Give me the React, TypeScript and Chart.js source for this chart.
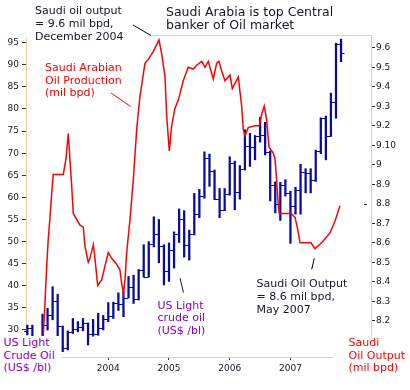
import React, { useEffect, useRef } from "react";
import { Chart, registerables } from "chart.js";
Chart.register(...registerables);

// Monthly bars, Sep 2002 .. Nov 2007 (index 0 = Sep 2002)
const months = [
  "Sep02","Oct02","Nov02","Dec02",
  "Jan03","Feb03","Mar03","Apr03","May03","Jun03","Jul03","Aug03","Sep03","Oct03","Nov03","Dec03",
  "Jan04","Feb04","Mar04","Apr04","May04","Jun04","Jul04","Aug04","Sep04","Oct04","Nov04","Dec04",
  "Jan05","Feb05","Mar05","Apr05","May05","Jun05","Jul05","Aug05","Sep05","Oct05","Nov05","Dec05",
  "Jan06","Feb06","Mar06","Apr06","May06","Jun06","Jul06","Aug06","Sep06","Oct06","Nov06","Dec06",
  "Jan07","Feb07","Mar07","Apr07","May07","Jun07","Jul07","Aug07","Sep07","Oct07","Nov07",
];
const opens = [29.7,30.5,27.2,26.9,31.2,33.3,36.5,30.9,25.9,29.5, 30.2,30.6,31.6,29.2,29.1,30.4,32.5,33.1,36.2,35.8, 37.3,39.8,36.9,43.6,42.1,49.5,51.7,48.9,43.3,48.1, 51.8,55.2,49.3,51.8,56.3,60.3,68.8,65.9,59.7,57.2, 60.8,67.8,61.3,66.5,71.6,71.3,73.8,74.2,70.2,62.8, 58.6,62.9,61.0,58.0,61.6,65.7,65.6,63.9,70.5,77.9, 74.0,81.6,94.6];
const highs = [31.1,31.1,28.3,33.6,34.9,39.8,38.1,30.9,29.8,32.6, 31.9,32.6,31.6,32.4,33.8,33.3,36.2,36.3,38.4,38.7, 42.1,42.4,43.7,49.3,50.0,55.6,55.0,49.3,49.7,52.2, 57.4,57.0,52.6,60.9,61.8,70.3,69.8,66.2,62.0,62.0, 69.2,68.2,67.2,75.3,74.5,74.0,78.1,77.0,70.5,63.5, 63.4,64.0,61.4,62.3,67.5,66.5,66.5,70.7,78.0,78.4, 83.6,94.9,95.8];
const lows = [28.9,26.9,25.2,26.6,30.0,32.3,28.5,25.1,25.5,29.2, 29.6,29.8,26.6,28.6,28.8,30.0,31.9,32.6,34.4,33.0, 37.3,36.0,36.8,42.0,42.0,48.8,45.2,40.2,41.0,44.0, 49.8,46.5,45.8,51.5,55.4,59.8,62.5,59.5,55.4,57.0, 60.5,57.2,59.6,66.2,67.0,68.5,72.5,69.6,59.2,56.5, 54.8,60.3,49.6,56.2,56.2,61.0,61.0,63.6,69.9,68.5, 73.8,77.9,90.7];
const closes = [30.5,27.2,26.9,31.2,33.3,36.5,30.9,25.9,29.5,30.2, 30.6,31.6,29.2,29.1,30.4,32.5,33.1,36.2,35.8,37.3, 39.8,36.9,43.6,42.1,49.5,51.7,48.9,43.3,48.1,51.8, 55.2,49.3,51.8,56.3,60.3,68.8,65.9,59.7,57.2,60.8, 67.8,61.3,66.5,71.6,71.3,73.8,74.2,70.2,62.8,58.6, 62.9,61.0,58.0,61.6,65.7,65.6,63.9,70.5,77.9,74.0, 81.6,94.6,92.6];

// Saudi output line (position in months from Sep 2002, mil bpd)
const saudiMonthPos = [3.15,3.49,3.83,4.14,4.48,4.81,5.13,7.11,7.64,8.09, 8.77,9.08,9.75,10.41,11.06,11.40,12.05,12.38,13.04,13.37, 13.91,14.70,16.0,16.67,17.66,18.31,18.65,19.0,19.30,19.64, 20.29,20.94,21.61,22.26,23.25,23.91,24.89,26.02,26.55,27.21, 27.54,28.06,28.53,29.18,29.83,30.82,31.81,32.80,33.47,34.46, 35.11,35.76,36.75,37.42,37.88,38.41,39.06,40.05,40.51,41.69, 42.36,42.68,43.02,43.67,44.99,45.84,46.32,46.83,47.30,47.76, 48.61,48.94,49.28,49.60,49.79,52.11,52.90,53.43,53.89,56.06, 56.85,58.17,59.81,60.80,61.79];
const saudiOutput = [8.12,8.29,8.48,8.62,8.73,8.85,8.95,8.95,9.03,9.16, 8.89,8.75,8.72,8.69,8.68,8.58,8.50,8.52,8.59,8.52, 8.38,8.41,8.55,8.52,8.49,8.46,8.39,8.34,8.41,8.55, 8.72,8.92,9.18,9.35,9.52,9.54,9.58,9.64,9.57,9.45, 9.25,9.07,9.20,9.29,9.33,9.43,9.50,9.49,9.51,9.53, 9.50,9.53,9.44,9.52,9.53,9.48,9.43,9.46,9.39,9.45, 9.30,9.18,9.15,9.19,9.20,9.20,9.26,9.30,9.23,9.09, 9.06,9.03,8.92,8.79,8.75,8.75,8.73,8.67,8.60,8.60, 8.57,8.60,8.65,8.71,8.79];

const yearTickPos = [16, 28, 40, 52];
const yearLabels = ["2004", "2005", "2006", "2007"];
const leftTicks = [30, 35, 40, 45, 50, 55, 60, 65, 70, 75, 80, 85, 90, 95];
const rightTicks = [8.2, 8.3, 8.4, 8.5, 8.6, 8.7, 8.8, 8.9, 9.0, 9.1, 9.2, 9.3, 9.4, 9.5, 9.6];
const rightTickLabels = ["8.2","8.3","8.4","8.5","8.6","8.7","8.8","8.9","9","9.10","9.2","9.3","9.4","9.5","9.6"];

const NAVY = "#0a0a9e";
const RED = "#ff0000";
const PEACH = "#f8cc9e";
const PURPLE = "#8a00c8";
const INK = "#161625";
const FONT = "'DejaVu Sans', Verdana, sans-serif";

export default function App() {
  const ref = useRef<HTMLCanvasElement>(null);

  useEffect(() => {
    const canvas = ref.current!;
    const ohlcTicks = {
      id: "ohlcTicks",
      afterDatasetDraw(chart: any, args: any) {
        if (args.index !== 0) return;
        const { ctx, scales } = chart;
        const xs = scales.x, ys = scales.y;
        ctx.save();
        ctx.strokeStyle = NAVY;
        ctx.lineWidth = 1;
        ctx.beginPath();
        for (let i = 0; i < opens.length; i++) {
          const x = xs.getPixelForValue(i);
          const yo = Math.round(ys.getPixelForValue(opens[i])) + 0.5;
          const yc = Math.round(ys.getPixelForValue(closes[i])) + 0.5;
          ctx.moveTo(x - 3.5, yo); ctx.lineTo(x, yo);
          ctx.moveTo(x, yc); ctx.lineTo(x + 3.5, yc);
        }
        ctx.stroke();
        ctx.restore();
      },
    };
    const frame = {
      id: "frame",
      afterDraw(chart: any) {
        const { ctx, chartArea: a, scales } = chart;
        ctx.save();
        ctx.strokeStyle = PEACH;
        ctx.lineWidth = 1;
        ctx.beginPath();
        const y = Math.round(a.top) + 0.5;
        ctx.moveTo(a.left, y); ctx.lineTo(a.right, y);
        ctx.stroke();
        // odd tick for 8.8 sits inside the plot on the original
        const y88 = Math.round(scales.y2.getPixelForValue(8.8)) + 0.5;
        ctx.strokeStyle = "#333";
        ctx.beginPath();
        ctx.moveTo(a.right - 7, y88); ctx.lineTo(a.right - 4, y88);
        ctx.stroke();
        ctx.restore();
      },
    };

    const chart = new Chart(canvas, {
      type: "bar",
      data: {
        labels: months,
        datasets: [
          {
            type: "bar",
            label: "US Light crude oil",
            data: months.map((_, i) => ({ x: i, y: [lows[i], highs[i]] })) as any,
            backgroundColor: NAVY,
            borderWidth: 0,
            barThickness: 1.6,
            xAxisID: "x",
            yAxisID: "y",
            order: 2,
          },
          {
            type: "line",
            label: "Saudi Arabian Oil Production",
            data: saudiMonthPos.map((p, i) => ({ x: p, y: saudiOutput[i] })) as any,
            borderColor: RED,
            borderWidth: 1.5,
            pointRadius: 0,
            tension: 0,
            xAxisID: "x",
            yAxisID: "y2",
            order: 1,
          },
        ],
      },
      options: {
        animation: false,
        responsive: false,
        devicePixelRatio: 1,
        layout: { padding: { top: 35, left: 0, right: 0, bottom: 0 } },
        plugins: { legend: { display: false }, tooltip: { enabled: false } },
        scales: {
          x: {
            type: "linear",
            offset: false,
            min: -0.26,
            max: 67.92,
            afterBuildTicks: (s: any) => { s.ticks = yearTickPos.map((v) => ({ value: v })); },
            afterFit: (s: any) => { s.height = 33; },
            ticks: {
              autoSkip: false,
              maxRotation: 0,
              padding: 3,
              color: INK,
              font: { family: FONT, size: 9 },
              callback: (v: any) => { const k = yearTickPos.indexOf(v); return k >= 0 ? yearLabels[k] : ""; },
            },
            grid: { drawOnChartArea: false, offset: false, tickLength: 3, color: "#333" },
            border: { color: PEACH, width: 1 },
          },
          y: {
            position: "left",
            min: 23.89,
            max: 96.74,
            afterBuildTicks: (s: any) => { s.ticks = leftTicks.map((v) => ({ value: v })); },
            afterFit: (s: any) => { s.width = 26; },
            ticks: { padding: 3, color: INK, font: { family: FONT, size: 9 } },
            grid: { drawOnChartArea: false, tickLength: 4, color: "#333" },
            border: { color: PEACH, width: 1 },
          },
          y2: {
            position: "right",
            min: 8.014,
            max: 9.665,
            afterBuildTicks: (s: any) => { s.ticks = rightTicks.map((v) => ({ value: v })); },
            afterFit: (s: any) => { s.width = 39; },
            ticks: {
              padding: 1,
              color: INK,
              font: { family: FONT, size: 9 },
              callback: (v: any) => {
                const k = rightTicks.findIndex((t) => Math.abs(t - v) < 1e-6);
                return k >= 0 ? rightTickLabels[k] : "";
              },
            },
            grid: {
              drawOnChartArea: false,
              tickLength: 4,
              color: (c: any) => (c.tick && Math.abs(c.tick.value - 8.8) < 1e-6 ? "rgba(0,0,0,0)" : "#333"),
            },
            border: { color: PEACH, width: 1 },
          },
        },
      },
      plugins: [ohlcTicks, frame],
    } as any);
    return () => chart.destroy();
  }, []);

  const txt = (s: string, left: number, top: number, color: string, size: number, lh: number) => (
    <div style={{ position: "absolute", left, top, color, font: `${size}px ${FONT}`, lineHeight: `${lh}px`, whiteSpace: "pre" }}>{s}</div>
  );

  return (
    <div style={{ position: "fixed", left: 0, top: 0, width: 410, height: 390, background: "#fff", overflow: "hidden" }}>
      <canvas ref={ref} width={410} height={390} style={{ position: "absolute", left: 0, top: 0, width: 410, height: 390 }} />
      <div style={{ position: "absolute", left: 18, top: 29, width: 133, height: 9, background: "#fff" }} />
      <div style={{ position: "absolute", left: 0, top: 336, width: 61, height: 54, background: "#fff" }} />
      <div style={{ position: "absolute", left: 333, top: 335, width: 77, height: 55, background: "#fff" }} />
      {txt("Saudi Arabia is top Central\nbanker of Oil market", 166, 4.5, INK, 12.5, 13.3)}
      {txt("Saudi oil output\n= 9.6 mil bpd,\nDecember 2004", 35, 5, INK, 11, 12.9)}
      {txt("Saudi Arabian\nOil Production\n(mil bpd)", 45, 62, RED, 11, 12.5)}
      {txt("US Light\ncrude oil\n(US$ /bl)", 157.5, 299.5, PURPLE, 11, 12.8)}
      {txt("Saudi Oil Output\n= 8.6 mil bpd,\nMay 2007", 256.5, 277, INK, 11, 13)}
      {txt("US Light\nCrude Oil\n(US$ /bl)", 3.5, 337, PURPLE, 11, 12.5)}
      {txt("Saudi\nOil Output\n(mil bpd)", 348.5, 337, RED, 11, 12.5)}
      <svg width={410} height={390} style={{ position: "absolute", left: 0, top: 0, pointerEvents: "none" }}>
        <line x1={133} y1={25} x2={151} y2={35.5} stroke="#000" strokeWidth={1} />
        <line x1={111} y1={93} x2={130.7} y2={106.5} stroke={RED} strokeWidth={1} />
        <line x1={180} y1={278.3} x2={183.5} y2={292.5} stroke="#101060" strokeWidth={1} />
        <line x1={314.3} y1={258.3} x2={311.7} y2={269.3} stroke="#000" strokeWidth={1} />
      </svg>
    </div>
  );
}
